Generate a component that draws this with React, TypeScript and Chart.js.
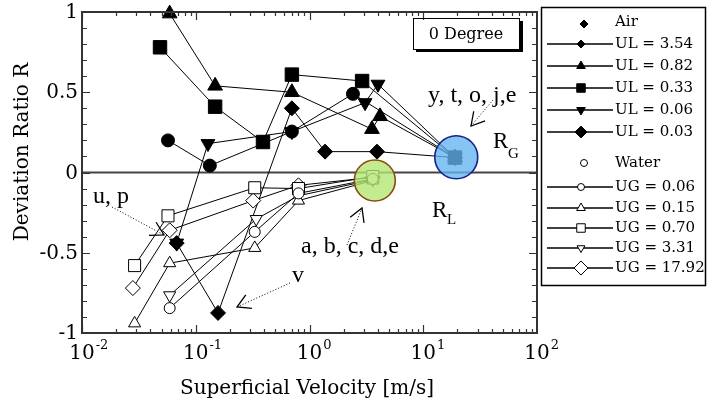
import React, { useEffect, useRef } from 'react';
import { Chart, registerables } from 'chart.js';

Chart.register(...registerables);

// ---- Air series (filled markers), x = superficial gas velocity ----
const ul354X = [0.057, 0.133, 0.70, 2.41, 19.0];
const ul354Y = [0.20, 0.043, 0.255, 0.49, 0.093];
const ul082X = [0.059, 0.148, 0.70, 3.54, 4.17, 19.0];
const ul082Y = [0.99, 0.54, 0.50, 0.27, 0.35, 0.093];
const ul033X = [0.0485, 0.148, 0.39, 0.70, 2.9, 19.0];
const ul033Y = [0.78, 0.41, 0.19, 0.61, 0.57, 0.093];
const ul006X = [0.068, 0.128, 0.70, 3.08, 4.0, 19.0];
const ul006Y = [-0.44, 0.18, 0.255, 0.435, 0.55, 0.093];
const ul003X = [0.068, 0.157, 0.70, 1.37, 3.92, 19.0];
const ul003Y = [-0.44, -0.875, 0.40, 0.13, 0.13, 0.093];

// ---- Water series (open markers), x = superficial liquid velocity ----
const ug006X = [0.059, 0.33, 0.80, 3.6];
const ug006Y = [-0.845, -0.37, -0.13, -0.04];
const ug015X = [0.029, 0.059, 0.33, 0.80, 3.6];
const ug015Y = [-0.94, -0.565, -0.47, -0.175, -0.05];
const ug070X = [0.029, 0.057, 0.33, 0.80, 3.6];
const ug070Y = [-0.58, -0.27, -0.095, -0.10, -0.025];
const ug331X = [0.059, 0.34, 0.80, 3.6];
const ug331Y = [-0.765, -0.29, -0.145, -0.045];
const ug1792X = [0.028, 0.059, 0.32, 0.80, 3.6];
const ug1792Y = [-0.72, -0.36, -0.175, -0.08, -0.03];

const airLabels = ['UL = 3.54', 'UL = 0.82', 'UL = 0.33', 'UL = 0.06', 'UL = 0.03'];
const waterLabels = ['UG = 0.06', 'UG = 0.15', 'UG = 0.70', 'UG = 3.31', 'UG = 17.92'];

const yTickValues = [1, 0.5, 0, -0.5, -1];
const yTickLabels = ['1', '0.5', '0', '-0.5', '-1'];
const xTickExps = [-2, -1, 0, 1, 2];

const zip = (xs: number[], ys: number[]) => xs.map((x, i) => ({ x, y: ys[i] }));

function series(label: string, xs: number[], ys: number[], style: string, r: number, filled: boolean, rot = 0) {
  return {
    label,
    data: zip(xs, ys),
    showLine: true,
    borderColor: '#000',
    borderWidth: 1,
    pointStyle: style,
    pointRadius: r,
    pointRotation: rot,
    pointBackgroundColor: filled ? '#000' : '#fff',
    pointBorderColor: '#000',
    pointBorderWidth: 1,
    clip: false as any,
  };
}

function marker(ctx: CanvasRenderingContext2D, style: string, x: number, y: number, r: number, filled: boolean, rot = 0) {
  ctx.save();
  ctx.beginPath();
  if (style === 'circle') {
    ctx.arc(x, y, r, 0, Math.PI * 2);
  } else if (style === 'rect') {
    const s = r * Math.SQRT1_2;
    ctx.rect(x - s, y - s, 2 * s, 2 * s);
  } else if (style === 'rectRot') {
    ctx.moveTo(x, y - r); ctx.lineTo(x + r, y); ctx.lineTo(x, y + r); ctx.lineTo(x - r, y); ctx.closePath();
  } else if (style === 'triangle') {
    let a = (rot * Math.PI) / 180;
    ctx.moveTo(x + Math.sin(a) * r, y - Math.cos(a) * r);
    a += (2 * Math.PI) / 3;
    ctx.lineTo(x + Math.sin(a) * r, y - Math.cos(a) * r);
    a += (2 * Math.PI) / 3;
    ctx.lineTo(x + Math.sin(a) * r, y - Math.cos(a) * r);
    ctx.closePath();
  }
  ctx.fillStyle = filled ? '#000' : '#fff';
  ctx.fill();
  ctx.strokeStyle = '#000';
  ctx.lineWidth = 1;
  ctx.stroke();
  ctx.restore();
}

function arrow(ctx: CanvasRenderingContext2D, x1: number, y1: number, x2: number, y2: number) {
  ctx.save();
  ctx.strokeStyle = '#000';
  ctx.lineWidth = 1;
  ctx.setLineDash([1, 2]);
  ctx.beginPath(); ctx.moveTo(x1, y1); ctx.lineTo(x2, y2); ctx.stroke();
  ctx.setLineDash([]);
  ctx.lineWidth = 1.3;
  const ang = Math.atan2(y1 - y2, x1 - x2);
  const len = 15, sp = 0.52;
  ctx.beginPath();
  ctx.moveTo(x2 + len * Math.cos(ang - sp), y2 + len * Math.sin(ang - sp));
  ctx.lineTo(x2, y2);
  ctx.lineTo(x2 + len * Math.cos(ang + sp), y2 + len * Math.sin(ang + sp));
  ctx.stroke();
  ctx.restore();
}

const AXF = '"DejaVu Serif", serif';
const ANF = '"Liberation Serif", "Times New Roman", serif';

const overlay = {
  id: 'overlay',
  beforeDatasetsDraw(chart: any) {
    const { ctx, chartArea: a, scales } = chart;
    const y0 = scales.y.getPixelForValue(0);
    ctx.save();
    ctx.strokeStyle = '#444';
    ctx.lineWidth = 2;
    ctx.beginPath(); ctx.moveTo(a.left, y0); ctx.lineTo(a.right, y0); ctx.stroke();
    ctx.restore();
  },
  afterDatasetsDraw(chart: any) {
    const { ctx, chartArea: a, scales } = chart;
    const sx = scales.x, sy = scales.y;
    ctx.save();

    // highlight circles
    const bx = sx.getPixelForValue(19.5), by = sy.getPixelForValue(0.095);
    ctx.beginPath(); ctx.arc(bx, by, 21.5, 0, Math.PI * 2);
    ctx.fillStyle = 'rgba(100,180,240,0.78)'; ctx.fill();
    ctx.strokeStyle = '#14238a'; ctx.lineWidth = 1.6; ctx.stroke();
    const gx = sx.getPixelForValue(3.75), gy = sy.getPixelForValue(-0.05);
    ctx.beginPath(); ctx.arc(gx, gy, 20.5, 0, Math.PI * 2);
    ctx.fillStyle = 'rgba(180,230,115,0.8)'; ctx.fill();
    ctx.strokeStyle = '#8a4a14'; ctx.lineWidth = 1.6; ctx.stroke();

    // frame
    ctx.strokeStyle = '#333'; ctx.lineWidth = 2;
    ctx.strokeRect(a.left, a.top, a.right - a.left, a.bottom - a.top);

    // ticks
    ctx.lineWidth = 1.2; ctx.strokeStyle = '#333';
    ctx.beginPath();
    for (let i = -10; i <= 10; i++) {
      const py = Math.round(sy.getPixelForValue(i / 10)) + 0.5;
      const len = i % 5 === 0 ? 8 : 5;
      ctx.moveTo(a.left, py); ctx.lineTo(a.left + len, py);
      ctx.moveTo(a.right, py); ctx.lineTo(a.right - len, py);
    }
    for (let e = -2; e <= 1; e++) {
      for (let m = 1; m <= 9; m++) {
        const px = Math.round(sx.getPixelForValue(m * Math.pow(10, e))) + 0.5;
        const len = m === 1 ? 8 : 4;
        ctx.moveTo(px, a.bottom); ctx.lineTo(px, a.bottom - len);
        ctx.moveTo(px, a.top); ctx.lineTo(px, a.top + len);
      }
    }
    ctx.stroke();

    // y tick labels
    ctx.fillStyle = '#000';
    ctx.font = `20px ${AXF}`;
    ctx.textAlign = 'right'; ctx.textBaseline = 'middle';
    yTickValues.forEach((v, i) => ctx.fillText(yTickLabels[i], a.left - 4, sy.getPixelForValue(v) + 1));

    // x tick labels 10^n
    xTickExps.forEach((e) => {
      const px = sx.getPixelForValue(Math.pow(10, e));
      ctx.font = `20px ${AXF}`;
      ctx.textAlign = 'center';
      const w = ctx.measureText('10').width;
      ctx.fillText('10', px, 354);
      ctx.font = `13px ${AXF}`;
      ctx.textAlign = 'left';
      ctx.fillText(String(e), px + w / 2 + 1, 346);
    });

    // axis titles
    ctx.font = `20px ${AXF}`;
    ctx.textAlign = 'center';
    ctx.fillText('Superficial Velocity [m/s]', 307, 389);
    ctx.save();
    ctx.translate(23, 152); ctx.rotate(-Math.PI / 2);
    ctx.fillText('Deviation Ratio R', 0, 0);
    ctx.restore();

    // 0 Degree box
    ctx.fillStyle = '#000';
    ctx.fillRect(416, 49, 107, 3);
    ctx.fillRect(520, 21, 3, 31);
    ctx.strokeStyle = '#000'; ctx.lineWidth = 1;
    ctx.strokeRect(413.5, 18.5, 106, 31);
    ctx.font = `16px ${AXF}`;
    ctx.textAlign = 'center';
    ctx.fillText('0 Degree', 466, 35);

    // annotations
    ctx.font = `24px ${ANF}`;
    ctx.textAlign = 'left';
    ctx.fillText('y, t, o, j,e', 428, 96);
    ctx.fillText('a, b, c, d,e', 301, 247);
    ctx.fillText('u, p', 93, 197);
    ctx.fillText('v', 292, 276);
    ctx.font = `23px ${ANF}`;
    ctx.fillText('R', 493, 142);
    ctx.fillText('R', 432, 211);
    ctx.font = `15px ${ANF}`;
    ctx.fillText('G', 508, 154);
    ctx.fillText('L', 447, 220);
    arrow(ctx, 493, 100, 471, 126);
    arrow(ctx, 347, 245, 362, 208);
    arrow(ctx, 112, 207, 164, 235);
    arrow(ctx, 290, 283, 237, 307);

    // legend
    ctx.strokeStyle = '#000'; ctx.lineWidth = 1.5;
    ctx.strokeRect(541.5, 7.5, 164, 278);
    ctx.font = `15px ${AXF}`;
    ctx.textAlign = 'left'; ctx.textBaseline = 'middle';
    const lx1 = 547, lx2 = 613, mx = 581, tx = 615;
    marker(ctx, 'rectRot', mx + 3, 24, 4, true);
    ctx.fillStyle = '#000';
    ctx.fillText('Air', tx, 22);
    const airY = [44, 66, 88, 110, 132];
    const airM: [string, number, number][] = [['rectRot', 4, 0], ['triangle', 5, 0], ['rect', 6, 0], ['triangle', 5, 180], ['rectRot', 6, 0]];
    airY.forEach((yy, i) => {
      ctx.strokeStyle = '#000'; ctx.lineWidth = 1.3;
      ctx.beginPath(); ctx.moveTo(lx1, yy); ctx.lineTo(lx2, yy); ctx.stroke();
      marker(ctx, airM[i][0], mx, yy, airM[i][1], true, airM[i][2]);
      ctx.fillStyle = '#000';
      ctx.fillText(airLabels[i], tx, yy);
    });
    marker(ctx, 'circle', mx + 3, 163, 3.5, false);
    ctx.fillStyle = '#000';
    ctx.fillText('Water', tx, 163);
    const watY = [187, 208, 228, 248, 268];
    const watM: [string, number, number][] = [['circle', 3.5, 0], ['triangle', 5, 0], ['rect', 6, 0], ['triangle', 4.5, 180], ['rectRot', 7, 0]];
    watY.forEach((yy, i) => {
      ctx.strokeStyle = '#000'; ctx.lineWidth = 1.3;
      ctx.beginPath(); ctx.moveTo(lx1, yy); ctx.lineTo(lx2, yy); ctx.stroke();
      marker(ctx, watM[i][0], mx, yy, watM[i][1], false, watM[i][2]);
      ctx.fillStyle = '#000';
      ctx.fillText(waterLabels[i], tx, yy);
    });

    ctx.restore();
  },
};

export default function App() {
  const ref = useRef<HTMLCanvasElement>(null);
  useEffect(() => {
    if (!ref.current) return;
    const chart = new Chart(ref.current, {
      type: 'scatter',
      data: {
        datasets: [
          series(waterLabels[0], ug006X, ug006Y, 'circle', 5.5, false),
          series(waterLabels[1], ug015X, ug015Y, 'triangle', 7, false),
          series(waterLabels[2], ug070X, ug070Y, 'rect', 8.5, false),
          series(waterLabels[3], ug331X, ug331Y, 'triangle', 7, false, 180),
          series(waterLabels[4], ug1792X, ug1792Y, 'rectRot', 7.5, false),
          series(airLabels[0], ul354X, ul354Y, 'circle', 6.5, true),
          series(airLabels[1], ul082X, ul082Y, 'triangle', 8.5, true),
          series(airLabels[2], ul033X, ul033Y, 'rect', 9.5, true),
          series(airLabels[3], ul006X, ul006Y, 'triangle', 8, true, 180),
          series(airLabels[4], ul003X, ul003Y, 'rectRot', 7.5, true),
        ] as any,
      },
      options: {
        animation: false,
        responsive: false,
        layout: { padding: { left: 82, right: 170, top: 12, bottom: 72 } },
        plugins: { legend: { display: false }, tooltip: { enabled: false } },
        scales: {
          x: { type: 'logarithmic', min: 0.01, max: 100, display: false },
          y: { type: 'linear', min: -1, max: 1, display: false },
        },
      },
      plugins: [overlay],
    });
    return () => chart.destroy();
  }, []);
  return (
    <div style={{ position: 'fixed', left: 0, top: 0, width: 707, height: 405, background: '#fff' }}>
      <canvas ref={ref} width={707} height={405} style={{ width: 707, height: 405, display: 'block' }} />
    </div>
  );
}
